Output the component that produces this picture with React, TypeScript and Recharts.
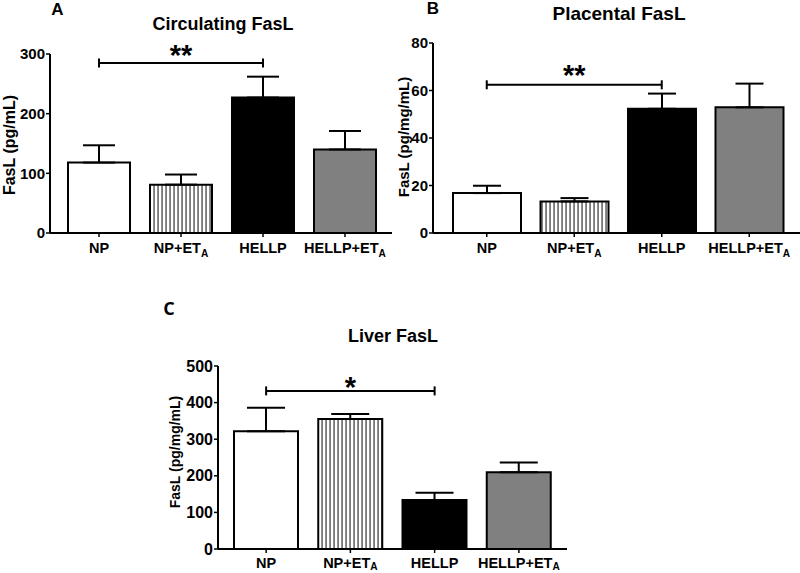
import { Bar, BarChart, Cell, ErrorBar, ReferenceDot, ReferenceLine, XAxis, YAxis } from 'recharts';

const groups = ['NP', 'NP+ET', 'HELLP', 'HELLP+ET'];

// A: circulating FasL (pg/mL)
const circulatingMean = [118, 81, 227, 140];
const circulatingSem = [29, 17, 35, 31];
const circulatingTicks = [0, 100, 200, 300];

// B: placental FasL (pg/mg/mL)
const placentalMean = [16.8, 13.3, 52.3, 52.9];
const placentalSem = [3.1, 1.4, 6.4, 10];
const placentalTicks = [0, 20, 40, 60, 80];

// C: liver FasL (pg/mg/mL)
const liverMean = [322, 355, 134, 210];
const liverSem = [64, 14, 20, 26];
const liverTicks = [0, 100, 200, 300, 400, 500];

// significance bracket NP vs HELLP
const sigFrom = 'NP';
const sigTo = 'HELLP';
const starOver = 'NP+ET';

const FONT = '"Liberation Sans", Arial, sans-serif';

const XTick = (props: any) => {
    const { x, y, payload, fontSize, dy, subShift } = props;
    const label: string = payload.value;
    const hasSub = label.endsWith('+ET');
    return (
        <text x={x} y={y} dy={dy} textAnchor="middle" fontSize={fontSize} fontWeight="bold" fill="#000" fontFamily={FONT}>
            {label}
            {hasSub && <tspan dy={subShift} fontSize={fontSize * 0.7}>A</tspan>}
        </text>
    );
};

type PanelProps = {
    id: string;
    mean: number[];
    sem: number[];
    ticks: number[];
    left: number;
    top: number;
    width: number;
    height: number;
    margin: { top: number; right: number; left: number; bottom: number };
    xAxisHeight: number;
    yAxisWidth: number;
    padding: { left: number; right: number };
    bracketY: number;
    bracketTick: number;
    stars: string;
    starY: number;
    capWidth: number;
    yTickFont: number;
    labelDy: number;
    subShift: number;
};

function Panel(p: PanelProps) {
    const data = groups.map((g, i) => ({ group: g, mean: p.mean[i], err: [0, p.sem[i]] }));
    const fills = ['#ffffff', `url(#${p.id}-stripes)`, '#000000', '#808080'];
    const line = { stroke: '#000', strokeWidth: 2 };

    return (
        <div style={{ position: 'absolute', left: p.left, top: p.top }}>
            <BarChart width={p.width} height={p.height} data={data} margin={p.margin} barCategoryGap={10}>
                <defs>
                    <pattern id={`${p.id}-stripes`} patternUnits="userSpaceOnUse" width={4} height={4}>
                        <rect width={4} height={4} fill="#fff" />
                        <rect x={1.5} width={1.1} height={4} fill="#222" />
                    </pattern>
                </defs>
                <XAxis
                    dataKey="group"
                    height={p.xAxisHeight}
                    padding={p.padding}
                    interval={0}
                    tickSize={4}
                    axisLine={line}
                    tickLine={{ stroke: '#000', strokeWidth: 1.5 }}
                    tick={(t: any) => <XTick {...t} fontSize={14.5} dy={p.labelDy} subShift={p.subShift} />}
                />
                <YAxis
                    width={p.yAxisWidth}
                    domain={[p.ticks[0], p.ticks[p.ticks.length - 1]]}
                    ticks={p.ticks}
                    interval={0}
                    tickSize={4}
                    tickMargin={1}
                    axisLine={line}
                    tickLine={{ stroke: '#000', strokeWidth: 1.5 }}
                    tick={{ fill: '#000', fontSize: p.yTickFont, fontWeight: 'bold', fontFamily: FONT }}
                />
                <Bar dataKey="mean" isAnimationActive={false} stroke="#000" strokeWidth={2}>
                    {data.map((d, i) => (
                        <Cell key={d.group} fill={fills[i]} />
                    ))}
                    <ErrorBar dataKey="err" direction="y" width={p.capWidth} stroke="#000" strokeWidth={2} isAnimationActive={false} />
                </Bar>
                <ReferenceLine segment={[{ x: sigFrom, y: p.bracketY }, { x: sigTo, y: p.bracketY }]} {...line} />
                <ReferenceLine segment={[{ x: sigFrom, y: p.bracketY - p.bracketTick }, { x: sigFrom, y: p.bracketY + p.bracketTick }]} {...line} />
                <ReferenceLine segment={[{ x: sigTo, y: p.bracketY - p.bracketTick }, { x: sigTo, y: p.bracketY + p.bracketTick }]} {...line} />
                <ReferenceDot
                    x={starOver}
                    y={p.starY}
                    r={0}
                    fill="none"
                    stroke="none"
                    label={{ value: p.stars, position: 'center', fontSize: 29, fontWeight: 'bold', fill: '#000', fontFamily: FONT }}
                />
            </BarChart>
        </div>
    );
}

const Txt = ({ x, y, size, text, rotate = false, family = FONT }: { x: number; y: number; size: number; text: string; rotate?: boolean; family?: string }) => (
    <div
        style={{
            position: 'absolute',
            left: x,
            top: y,
            transform: `translate(-50%, -50%)${rotate ? ' rotate(-90deg)' : ''}`,
            fontSize: size,
            fontWeight: 'bold',
            fontFamily: family,
            lineHeight: 1,
            whiteSpace: 'nowrap',
            color: '#000',
        }}
    >
        {text}
    </div>
);

export default function App() {
    return (
        <div style={{ position: 'absolute', left: 0, top: 0, width: 800, height: 573, background: '#fff', overflow: 'hidden' }}>
            <Panel
                id="circ"
                mean={circulatingMean}
                sem={circulatingSem}
                ticks={circulatingTicks}
                left={0}
                top={0}
                width={400}
                height={290}
                margin={{ top: 54, right: 8, left: 0, bottom: 27 }}
                xAxisHeight={30}
                yAxisWidth={50}
                padding={{ left: 8, right: 6 }}
                bracketY={285}
                bracketTick={7.5}
                stars="**"
                starY={298}
                capWidth={16}
                yTickFont={15}
                labelDy={14}
                subShift={4}
            />
            <Panel
                id="plac"
                mean={placentalMean}
                sem={placentalSem}
                ticks={placentalTicks}
                left={380}
                top={0}
                width={420}
                height={290}
                margin={{ top: 43, right: 0, left: 0, bottom: 27 }}
                xAxisHeight={30}
                yAxisWidth={53}
                padding={{ left: 10, right: 7 }}
                bracketY={62.4}
                bracketTick={1.9}
                stars="**"
                starY={66.6}
                capWidth={14}
                yTickFont={15}
                labelDy={14}
                subShift={4}
            />
            <Panel
                id="liver"
                mean={liverMean}
                sem={liverSem}
                ticks={liverTicks}
                left={180}
                top={290}
                width={420}
                height={283}
                margin={{ top: 76, right: 33, left: 0, bottom: 0 }}
                xAxisHeight={24}
                yAxisWidth={38}
                padding={{ left: 6, right: 6 }}
                bracketY={432}
                bracketTick={12.3}
                stars="*"
                starY={443}
                capWidth={19}
                yTickFont={16}
                labelDy={12.5}
                subShift={2.5}
            />

            <Txt x={57.5} y={9} size={17} text="A" />
            <Txt x={433} y={8} size={17} text="B" />
            <Txt x={169} y={308} size={18} text="C" family='"Open Sans", sans-serif' />

            <Txt x={223} y={24} size={18} text="Circulating FasL" />
            <Txt x={619} y={13} size={19} text="Placental FasL" />
            <Txt x={393} y={336} size={18} text="Liver FasL" />

            <Txt x={10} y={145} size={16} text="FasL (pg/mL)" rotate />
            <Txt x={403} y={137} size={15} text="FasL (pg/mg/mL)" rotate />
            <Txt x={175} y={452} size={14} text="FasL (pg/mg/mL)" rotate />
        </div>
    );
}
